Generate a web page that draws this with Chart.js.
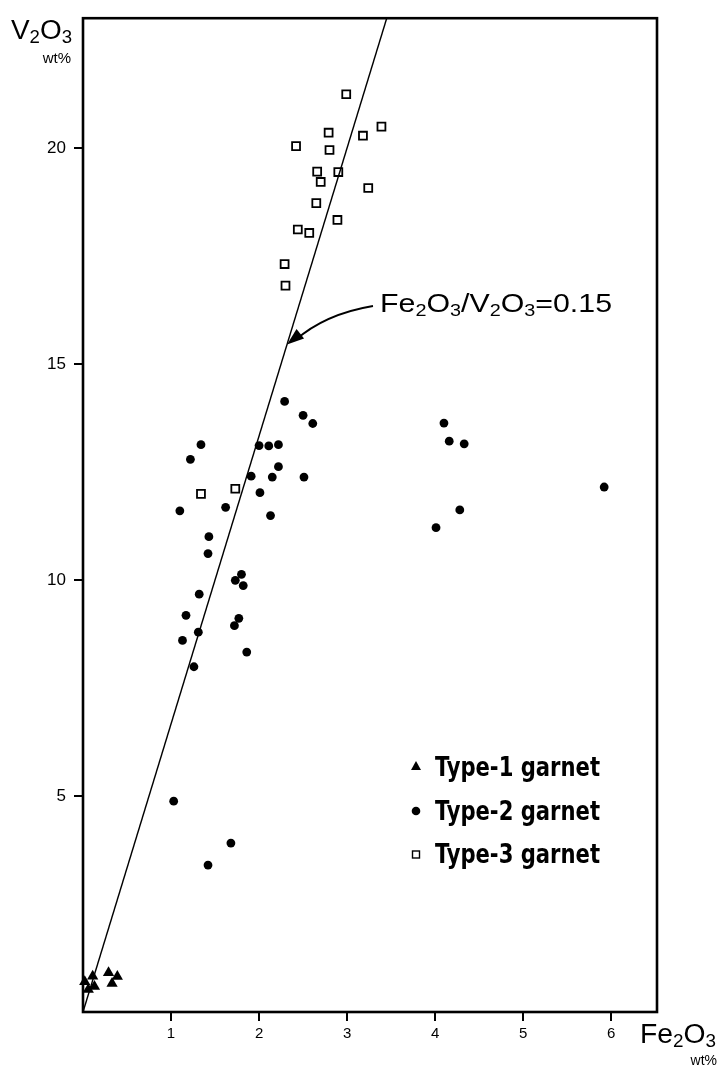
<!DOCTYPE html>
<html>
<head>
<meta charset="utf-8">
<script src="https://cdn.jsdelivr.net/npm/chart.js@4/dist/chart.umd.min.js"></script>
<style>
  html, body { margin: 0; padding: 0; background: #fff; }
  canvas { display: block; }
</style>
</head>
<body>
<canvas id="chart" width="720" height="1066"></canvas>
<script>
// Fe2O3 vs V2O3 (wt%) in garnets
let type1Fe = [0.11, 0.29, 0.39, 0.02, 0.13, 0.33, 0.06];
let type1V  = [0.83, 0.91, 0.82, 0.70, 0.59, 0.66, 0.52];

let type2Fe = [2.29, 2.50, 2.61, 1.34, 2.00, 2.11, 2.22, 1.22, 2.22, 1.91, 2.15, 2.51, 2.01,
               1.10, 1.62, 2.13, 1.43, 1.42, 1.80, 1.73, 1.82, 1.32, 1.17, 1.77, 1.72, 1.31,
               1.13, 1.86, 1.26, 4.10, 4.16, 4.33, 5.92, 4.28, 4.01, 1.03, 1.68, 1.42];
let type2V  = [14.13, 13.81, 13.62, 13.13, 13.11, 13.10, 13.13, 12.79, 12.62, 12.40, 12.38, 12.38, 12.02,
               11.60, 11.68, 11.49, 11.00, 10.61, 10.13, 9.99, 9.87, 9.67, 9.18, 9.11, 8.94, 8.79,
               8.60, 8.33, 7.99, 13.63, 13.21, 13.15, 12.15, 11.62, 11.21, 4.88, 3.91, 3.40];

let type3Fe = [2.99, 3.39, 2.79, 3.18, 2.42, 2.80, 2.66, 2.90, 2.70, 3.24, 2.65, 2.89, 2.44, 2.57,
               2.29, 2.30, 1.34, 1.73];
let type3V  = [21.24, 20.49, 20.35, 20.28, 20.04, 19.95, 19.45, 19.44, 19.21, 19.07, 18.72, 18.33, 18.11, 18.03,
               17.31, 16.81, 11.99, 12.11];

// reference line Fe2O3/V2O3 = 0.15
let lineFe = [0, 3.45];
let lineV  = [0, 23];

let xTicks = [1, 2, 3, 4, 5, 6];
let yTicks = [5, 10, 15, 20];
let legendLabels = ["Type-1 garnet", "Type-2 garnet", "Type-3 garnet"];

const FONT = '"Liberation Sans", Arial, Helvetica, sans-serif';
const BOLD_NARROW = '"Liberation Sans Narrow", "DejaVu Sans Condensed", "Liberation Sans", sans-serif';

function toPoints(xs, ys) {
    return xs.map((x, i) => ({ x: x, y: ys[i] }));
}

// draw a formula like Fe2O3 where parts flagged 1 are subscripts
function formulaWidth(ctx, parts, size) {
    let w = 0;
    parts.forEach(p => {
        ctx.font = (p[1] ? Math.round(size * 0.66) : size) + "px " + FONT;
        w += ctx.measureText(p[0]).width;
    });
    return w;
}

function drawFormula(ctx, parts, x, y, size, targetWidth) {
    let natural = formulaWidth(ctx, parts, size);
    let sx = targetWidth ? targetWidth / natural : 1;
    ctx.save();
    ctx.translate(x, y);
    ctx.scale(sx, 1);
    ctx.textBaseline = "alphabetic";
    ctx.textAlign = "left";
    let cx = 0;
    parts.forEach(p => {
        let s = p[1] ? Math.round(size * 0.66) : size;
        ctx.font = s + "px " + FONT;
        ctx.fillText(p[0], cx, p[1] ? size * 0.16 : 0);
        cx += ctx.measureText(p[0]).width;
    });
    ctx.restore();
}

function drawFitText(ctx, text, x, y, font, targetWidth) {
    ctx.save();
    ctx.font = font;
    let w = ctx.measureText(text).width;
    ctx.translate(x, y);
    ctx.scale(targetWidth / w, 1);
    ctx.textAlign = "left";
    ctx.textBaseline = "alphabetic";
    ctx.fillText(text, 0, 0);
    ctx.restore();
}

const frame = {
    id: "frame",
    beforeDatasetsDraw(chart) {
        const ctx = chart.ctx, a = chart.chartArea;
        ctx.save();
        ctx.strokeStyle = "#000";
        ctx.lineWidth = 2.6;
        ctx.strokeRect(a.left, a.top, a.right - a.left, a.bottom - a.top);
        ctx.restore();
    },
    afterDraw(chart) {
        const ctx = chart.ctx;
        const xs = chart.scales.x, ys = chart.scales.y;
        ctx.save();
        ctx.fillStyle = "#000";
        ctx.strokeStyle = "#000";

        // axis titles
        drawFormula(ctx, [["V", 0], ["2", 1], ["O", 0], ["3", 1]], 11, 39, 27, 61);
        ctx.font = "15px " + FONT;
        ctx.textAlign = "right";
        ctx.fillText("wt%", 71, 63);

        drawFormula(ctx, [["Fe", 0], ["2", 1], ["O", 0], ["3", 1]], 640, 1043, 27, 76);
        ctx.font = "14px " + FONT;
        ctx.textAlign = "right";
        ctx.fillText("wt%", 717, 1065);

        // ratio label and arrow
        drawFormula(ctx, [["Fe", 0], ["2", 1], ["O", 0], ["3", 1], ["/V", 0], ["2", 1], ["O", 0], ["3", 1], ["=0.15", 0]],
            380, 312, 26, 232);
        let tipX = xs.getPixelForValue(15.45 * 0.15), tipY = ys.getPixelForValue(15.45);
        let sX = 373, sY = 306;
        let cX = 325, cY = 314;
        ctx.lineWidth = 1.8;
        ctx.beginPath();
        ctx.moveTo(sX, sY);
        ctx.quadraticCurveTo(cX, cY, tipX + 8, tipY - 4);
        ctx.stroke();
        let ang = Math.atan2(tipY - cY, tipX - cX);
        ctx.beginPath();
        ctx.moveTo(tipX, tipY);
        ctx.lineTo(tipX - 17 * Math.cos(ang) + 6 * Math.sin(ang), tipY - 17 * Math.sin(ang) - 6 * Math.cos(ang));
        ctx.lineTo(tipX - 17 * Math.cos(ang) - 6 * Math.sin(ang), tipY - 17 * Math.sin(ang) + 6 * Math.cos(ang));
        ctx.closePath();
        ctx.fill();

        // legend
        let lx = 416, rows = [766, 810, 853];
        // triangle
        ctx.beginPath();
        ctx.moveTo(lx, rows[0] - 5);
        ctx.lineTo(lx + 5, rows[0] + 4);
        ctx.lineTo(lx - 5, rows[0] + 4);
        ctx.closePath();
        ctx.fill();
        // circle
        ctx.beginPath();
        ctx.arc(lx, rows[1] + 1, 4.3, 0, Math.PI * 2);
        ctx.fill();
        // square
        ctx.lineWidth = 1.4;
        ctx.strokeRect(lx - 3.5, rows[2] - 2, 7, 7);

        legendLabels.forEach((t, i) => {
            drawFitText(ctx, t, 435, rows[i] + 10, "bold 27px " + BOLD_NARROW, 165);
        });
        ctx.restore();
    }
};

const ctx = document.getElementById("chart").getContext("2d");
new Chart(ctx, {
    type: "scatter",
    data: {
        datasets: [
            {
                type: "line",
                data: toPoints(lineFe, lineV),
                borderColor: "#000",
                borderWidth: 1.4,
                pointRadius: 0,
                fill: false,
                tension: 0
            },
            {
                label: legendLabels[0],
                data: toPoints(type1Fe, type1V),
                pointStyle: "triangle",
                pointRadius: 6.5,
                backgroundColor: "#000",
                borderColor: "#000",
                borderWidth: 0,
                clip: false
            },
            {
                label: legendLabels[1],
                data: toPoints(type2Fe, type2V),
                pointStyle: "circle",
                pointRadius: 4.4,
                backgroundColor: "#000",
                borderColor: "#000",
                borderWidth: 0,
                clip: false
            },
            {
                label: legendLabels[2],
                data: toPoints(type3Fe, type3V),
                pointStyle: "rect",
                pointRadius: 5.6,
                backgroundColor: "#fff",
                borderColor: "#000",
                borderWidth: 1.8,
                clip: false
            }
        ]
    },
    options: {
        responsive: false,
        animation: false,
        layout: { padding: { top: 18, right: 63, left: 0, bottom: 0 } },
        plugins: {
            legend: { display: false },
            tooltip: { enabled: false }
        },
        scales: {
            x: {
                type: "linear",
                min: 0,
                max: 6.52,
                afterBuildTicks: s => { s.ticks = xTicks.map(v => ({ value: v })); },
                afterFit: s => { s.height = 54; },
                border: { display: false },
                grid: { drawOnChartArea: false, drawTicks: true, tickLength: 9, color: "#000", lineWidth: 2 },
                ticks: { color: "#000", padding: 4, font: { family: FONT, size: 15 }, maxRotation: 0 }
            },
            y: {
                type: "linear",
                min: 0,
                max: 23,
                afterBuildTicks: s => { s.ticks = yTicks.map(v => ({ value: v })); },
                afterFit: s => { s.width = 83; },
                border: { display: false },
                grid: { drawOnChartArea: false, drawTicks: true, tickLength: 9, color: "#000", lineWidth: 2 },
                ticks: { color: "#000", padding: 8, font: { family: FONT, size: 17 } }
            }
        }
    },
    plugins: [frame]
});
</script>
</body>
</html>
